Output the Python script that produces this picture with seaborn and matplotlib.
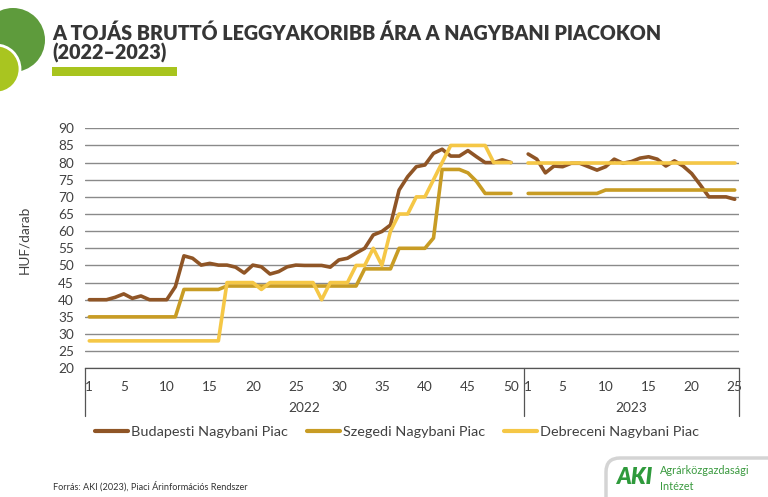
import numpy as np
import pandas as pd
import matplotlib
matplotlib.use("Agg")
import matplotlib.pyplot as plt
import matplotlib.transforms as mtransforms
from matplotlib.patches import Circle, Rectangle, FancyBboxPatch
from matplotlib.lines import Line2D
import seaborn as sns

# ---------------- data ----------------
weeks_2022 = list(range(1, 52))   # 51 categories
weeks_2023 = list(range(1, 26))   # 25 categories
nan = np.nan

budapest_2022 = [40, 40, 40, 40.7, 41.7, 40.4, 41.1, 40, 40, 40,
                 43.8, 52.8, 52.1, 50.1, 50.6, 50.1, 50.1, 49.5, 47.8, 50.1,
                 49.6, 47.5, 48.2, 49.6, 50.1, 50, 50, 50, 49.5, 51.6,
                 52.1, 53.6, 55, 58.9, 59.9, 61.8, 72, 75.9, 78.8, 79.3,
                 82.7, 83.9, 81.9, 81.9, 83.5, 81.7, 80, 80, 80.8, 80, nan]
budapest_2023 = [82.5, 81, 77, 79, 78.8, 79.8, 79.8, 78.8, 77.8, 78.8,
                 81, 79.8, 80.3, 81.3, 81.7, 81, 79, 80.5, 79, 76.8,
                 73.5, 70, 70, 70, 69.3]

szeged_2022 = [35] * 11 + [43] * 5 + [44] * 16 + [49] * 4 + [55] * 4 + \
              [58, 78, 78, 78, 77, 74.5, 71, 71, 71, 71, nan]
szeged_2023 = [71] * 9 + [72] * 16

debrecen_2022 = [28] * 16 + [45] * 4 + [43] + [45] * 6 + [40] + [45] * 3 + \
                [50, 50, 55, 50, 60, 65, 65, 70, 70, 75, 80] + [85] * 5 + [80] * 3 + [nan]
debrecen_2023 = [80] * 25

markets = ["Budapesti Nagybani Piac", "Szegedi Nagybani Piac", "Debreceni Nagybani Piac"]
colors = ["#8f5526", "#c89c24", "#f5c746"]
year_labels = ["2022", "2023"]
tick_weeks_2022 = [1, 5, 10, 15, 20, 25, 30, 35, 40, 45, 50]
tick_weeks_2023 = [1, 5, 10, 15, 20, 25]

# ---------------- build long table ----------------
series = {
    markets[0]: (budapest_2022, budapest_2023),
    markets[1]: (szeged_2022, szeged_2023),
    markets[2]: (debrecen_2022, debrecen_2023),
}
n22 = len(weeks_2022)
rows = []
for m, (a, b) in series.items():
    for i, v in enumerate(a):
        rows.append((m, i, v, year_labels[0]))
    for i, v in enumerate(b):
        rows.append((m, n22 + i, v, year_labels[1]))
df = pd.DataFrame(rows, columns=["market", "pos", "value", "year"]).dropna()

# ---------------- figure ----------------
sns.set_theme(style="white")
plt.rcParams["font.family"] = ["Lato", "DejaVu Sans"]

W, H = 768, 497
fig = plt.figure(figsize=(W / 100, H / 100), dpi=100)

# decorative overlay (pixel coordinates)
bg = fig.add_axes([0, 0, 1, 1], zorder=0)
bg.set_xlim(0, W)
bg.set_ylim(H, 0)
bg.axis("off")
bg.add_patch(Circle((13, 40), 32, color="#5e9b3c", lw=0))
bg.add_patch(Circle((-4, 69), 24, facecolor="#a9c520", edgecolor="white", lw=2))
bg.add_patch(Rectangle((52, 67), 125, 9, color="#a8c41e", lw=0))
bg.add_patch(FancyBboxPatch((606, 458), 200, 60, boxstyle="round,pad=0,rounding_size=14",
                            facecolor="white", edgecolor="#d4d4d4", lw=2.5))

ax = fig.add_axes([85 / W, 1 - 368.3 / H, 654 / W, 240 / H], zorder=2)
ax.patch.set_alpha(0)

sns.lineplot(data=df, x="pos", y="value", hue="market", units="year",
             estimator=None, palette=dict(zip(markets, colors)),
             hue_order=markets, linewidth=2.6, ax=ax, legend=False, sort=True)

ax.set_xlim(-0.5, n22 + len(weeks_2023) - 0.5)
ax.set_ylim(20, 90)
ax.set_yticks(range(20, 91, 5))
ax.yaxis.grid(True, color="#8a8a8a", lw=1)
ax.xaxis.grid(False)
for s in ["top", "right", "left"]:
    ax.spines[s].set_visible(False)
ax.spines["bottom"].set_color("#555555")
ax.spines["bottom"].set_linewidth(0.9)

tick_pos = [w - 1 for w in tick_weeks_2022] + [n22 + w - 1 for w in tick_weeks_2023]
tick_lab = [str(w) for w in tick_weeks_2022] + [str(w) for w in tick_weeks_2023]
ax.set_xticks(tick_pos)
ax.set_xticklabels(tick_lab)
ax.tick_params(axis="both", length=0, labelsize=9.8, labelcolor="#404040")
ax.tick_params(axis="x", pad=9)
ax.tick_params(axis="y", pad=8)
ax.set_xlabel("")
ax.set_ylabel("HUF/darab", fontsize=9.8, color="#404040")
ax.yaxis.set_label_coords(-55 / 654, 0.535)

# multi-level category axis
trans = mtransforms.blended_transform_factory(ax.transData, ax.transAxes)
for xb in [-0.5, n22 - 0.5, n22 + len(weeks_2023) - 0.5]:
    ax.plot([xb, xb], [0, -0.2], transform=trans, color="#555555", lw=0.9, clip_on=False)
ax.text((n22 - 1) / 2, -0.165, year_labels[0], transform=trans, ha="center", va="center",
        fontsize=9.8, color="#404040")
ax.text(n22 + (len(weeks_2023) - 1) / 2, -0.165, year_labels[1], transform=trans,
        ha="center", va="center", fontsize=9.8, color="#404040")

# legend
handles = [Line2D([0], [0], color=c, lw=3) for c in colors]
fig.legend(handles, markets, loc="center left", bbox_to_anchor=(82 / W, 1 - 432 / H),
           ncol=3, frameon=False, fontsize=10.4, handlelength=2.3, handletextpad=0.2,
           columnspacing=1.3, labelcolor="#404040")

# title
fig.text(52 / W, 1 - 33 / H, "A TOJÁS BRUTTÓ LEGGYAKORIBB ÁRA A NAGYBANI PIACOKON",
         fontsize=14.2, fontweight="heavy", color="#363636", va="center", ha="left")
fig.text(52 / W, 1 - 53 / H, "(2022–2023)", fontsize=14.2, fontweight="heavy",
         color="#363636", va="center", ha="left")

# footer
fig.text(53 / W, 1 - 486 / H, "Forrás: AKI (2023), Piaci Árinformációs Rendszer",
         fontsize=6.6, color="#333333", va="center", ha="left")

# logo
fig.text(616 / W, 1 - 478 / H, "AKI", fontsize=16, fontweight="heavy", color="#2f9a3c",
         va="center", ha="left", style="italic")
fig.text(660 / W, 1 - 471 / H, "Agrárközgazdasági", fontsize=7.8, color="#3a9a3f",
         va="center", ha="left")
fig.text(660 / W, 1 - 486 / H, "Intézet", fontsize=7.8, color="#3a9a3f",
         va="center", ha="left")

fig.savefig("out.png", dpi=100)
